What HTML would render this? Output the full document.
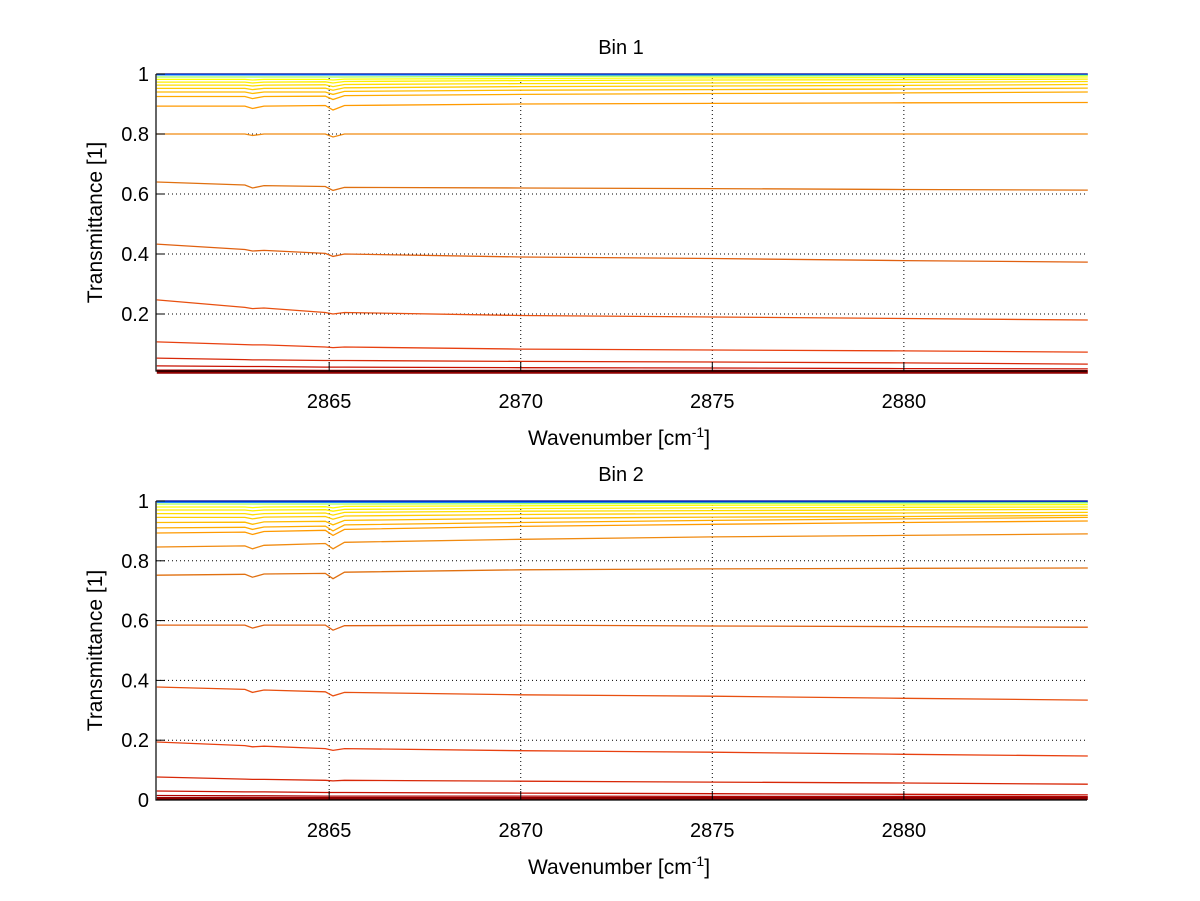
<!DOCTYPE html>
<html><head><meta charset="utf-8"><style>
body{margin:0;background:#fff;width:1200px;height:901px;overflow:hidden}
svg{display:block;font-family:"Liberation Sans",sans-serif}
</style></head><body>
<svg id="chart" width="1200" height="901"></svg>
<script>
const xs=[2860.5,2862.8,2863.0,2863.3,2864.9,2865.1,2865.4,2870,2875,2880,2884.8];
const xTicks=[2865,2870,2875,2880];
const yTicksTop=[0.2,0.4,0.6,0.8,1];
const yTickLabelsTop=["0.2","0.4","0.6","0.8","1"];
const yTicksBot=[0,0.2,0.4,0.6,0.8,1];
const yTickLabelsBot=["0","0.2","0.4","0.6","0.8","1"];
const bin1=[
[1.0,1.0,1.0,1.0,1.0,1.0,1.0,1.0,1.0,1.0,1.0],
[0.997,0.997,0.997,0.997,0.997,0.997,0.997,0.997,0.997,0.997,0.997],
[0.99,0.99,0.99,0.99,0.99,0.99,0.99,0.992,0.993,0.994,0.995],
[0.982,0.982,0.98,0.982,0.982,0.98,0.983,0.985,0.987,0.988,0.99],
[0.973,0.973,0.97,0.973,0.974,0.97,0.975,0.978,0.98,0.981,0.983],
[0.963,0.963,0.96,0.963,0.964,0.958,0.965,0.968,0.97,0.972,0.975],
[0.952,0.952,0.948,0.952,0.953,0.946,0.954,0.958,0.96,0.962,0.965],
[0.94,0.94,0.935,0.94,0.94,0.932,0.942,0.946,0.948,0.95,0.953],
[0.925,0.925,0.918,0.925,0.926,0.915,0.928,0.932,0.935,0.937,0.94],
[0.893,0.893,0.885,0.893,0.895,0.88,0.895,0.90,0.902,0.904,0.905],
[0.80,0.80,0.795,0.80,0.80,0.79,0.80,0.80,0.80,0.80,0.80],
[0.64,0.63,0.62,0.628,0.625,0.612,0.622,0.62,0.618,0.615,0.613],
[0.433,0.415,0.41,0.412,0.402,0.392,0.40,0.39,0.385,0.378,0.373],
[0.247,0.222,0.218,0.22,0.205,0.2,0.205,0.195,0.19,0.185,0.18],
[0.107,0.098,0.097,0.097,0.09,0.088,0.09,0.083,0.08,0.077,0.073],
[0.053,0.048,0.047,0.047,0.045,0.045,0.045,0.042,0.04,0.037,0.033],
[0.027,0.025,0.025,0.025,0.023,0.023,0.023,0.021,0.02,0.018,0.017],
[0.013,0.013,0.013,0.013,0.012,0.012,0.012,0.012,0.012,0.011,0.011],
[0.006,0.006,0.006,0.006,0.006,0.006,0.006,0.006,0.006,0.006,0.006]];
const bin2=[
[1.0,1.0,1.0,1.0,1.0,1.0,1.0,1.0,1.0,1.0,1.0],
[0.996,0.996,0.996,0.996,0.996,0.996,0.996,0.996,0.996,0.996,0.996],
[0.99,0.99,0.99,0.99,0.99,0.99,0.99,0.991,0.992,0.993,0.994],
[0.98,0.98,0.978,0.98,0.981,0.977,0.982,0.984,0.986,0.987,0.988],
[0.97,0.97,0.967,0.97,0.971,0.966,0.972,0.975,0.977,0.979,0.98],
[0.958,0.958,0.954,0.958,0.96,0.953,0.962,0.966,0.968,0.97,0.972],
[0.945,0.945,0.94,0.946,0.948,0.939,0.95,0.955,0.958,0.96,0.962],
[0.928,0.929,0.922,0.93,0.932,0.92,0.935,0.942,0.946,0.948,0.952],
[0.91,0.912,0.905,0.913,0.916,0.9,0.92,0.928,0.935,0.94,0.945],
[0.893,0.896,0.888,0.898,0.902,0.885,0.905,0.915,0.922,0.928,0.933],
[0.846,0.85,0.84,0.852,0.858,0.84,0.862,0.872,0.88,0.885,0.89],
[0.752,0.755,0.745,0.756,0.758,0.74,0.762,0.77,0.773,0.775,0.776],
[0.585,0.585,0.575,0.585,0.585,0.568,0.583,0.585,0.582,0.58,0.578],
[0.378,0.37,0.36,0.368,0.362,0.348,0.36,0.352,0.347,0.34,0.334],
[0.194,0.182,0.178,0.18,0.172,0.166,0.172,0.165,0.16,0.153,0.147],
[0.077,0.07,0.069,0.069,0.066,0.064,0.066,0.063,0.06,0.057,0.053],
[0.03,0.027,0.027,0.027,0.025,0.025,0.025,0.023,0.021,0.019,0.017],
[0.015,0.014,0.014,0.014,0.013,0.013,0.013,0.013,0.012,0.012,0.011],
[0.005,0.005,0.005,0.005,0.005,0.005,0.005,0.005,0.005,0.005,0.005]];
const colors=["#00008f","#0070ff","#a0ff60","#ffff00","#ffee00","#ffdd00","#ffcc00","#ffbb00","#ffaa00","#ff9a00","#f08a10","#e07010","#e06010","#e85010","#e84010","#d82808","#c81000","#b00000","#900000"];
const NS="http://www.w3.org/2000/svg";
const svg=document.getElementById('chart');
function mk(tag,attrs,parent){const e=document.createElementNS(NS,tag);for(const k in attrs)e.setAttribute(k,attrs[k]);(parent||svg).appendChild(e);return e;}
function panel(cfg){
  const g=mk('g',{});
  
  
  const X0=2860.48,X1=2884.78;
  const sx=v=>156+(v-X0)/(X1-X0)*(1087-156);
  const sy=v=>cfg.bottom-(v-cfg.ymin)/(1-cfg.ymin)*(cfg.bottom-cfg.top);
  xTicks.forEach(t=>{const l=mk('line',{x1:sx(t),x2:sx(t),y1:cfg.top,y2:cfg.bottom,stroke:'#000','stroke-width':1,'stroke-dasharray':'1,3'},g);
    });
  cfg.yt.forEach(t=>{if(t===1||t===0)return;const l=mk('line',{x1:156,x2:1087,y1:sy(t),y2:sy(t),stroke:'#000','stroke-width':1,'stroke-dasharray':'1,3'},g);
    });
  cfg.data.forEach((s,i)=>{
    const p=mk('polyline',{points:s.map((v,j)=>sx(xs[j]).toFixed(1)+','+sy(v).toFixed(1)).join(' '),fill:'none',stroke:colors[i],'stroke-width':i===cfg.data.length-1?3:1.3},g);
    
    
  });
  const ax=mk('path',{d:`M156,${cfg.top} V${cfg.bottom} H1087`,stroke:'#000','stroke-width':1.2,fill:'none'},g);
  
  xTicks.forEach(t=>{mk('line',{x1:sx(t),x2:sx(t),y1:cfg.bottom,y2:cfg.bottom-9,stroke:'#000'},g);
    const tx=mk('text',{x:sx(t),y:cfg.bottom+37,'text-anchor':'middle','font-size':20},g);tx.textContent=t;
    });
  cfg.yt.forEach((t,i)=>{mk('line',{x1:156,x2:165,y1:sy(t),y2:sy(t),stroke:'#000'},g);
    const tx=mk('text',{x:149,y:sy(t)+7,'text-anchor':'end','font-size':20},g);tx.textContent=cfg.ytl[i];
    });
  const ti=mk('text',{x:621,y:cfg.top-20,'text-anchor':'middle','font-size':20},g);ti.textContent=cfg.title;
  
  const xl=mk('text',{x:619,y:cfg.bottom+74,'text-anchor':'middle','font-size':21},g);
  xl.innerHTML='Wavenumber [cm<tspan dy="-8" font-size="14">-1</tspan><tspan dy="8">]</tspan>';
  
  const cy=(cfg.top+cfg.bottom)/2;
  const yl=mk('text',{x:102,y:cy,'text-anchor':'middle','font-size':21,transform:`rotate(-90 102 ${cy})`},g);
  yl.textContent='Transmittance [1]';
  
}
panel({name:'bin-1-panel',title:'Bin 1',top:74,bottom:371,ymin:0.01,data:bin1,yt:yTicksTop,ytl:yTickLabelsTop});
panel({name:'bin-2-panel',title:'Bin 2',top:501,bottom:800,ymin:0,data:bin2,yt:yTicksBot,ytl:yTickLabelsBot});
</script>
</body></html>
